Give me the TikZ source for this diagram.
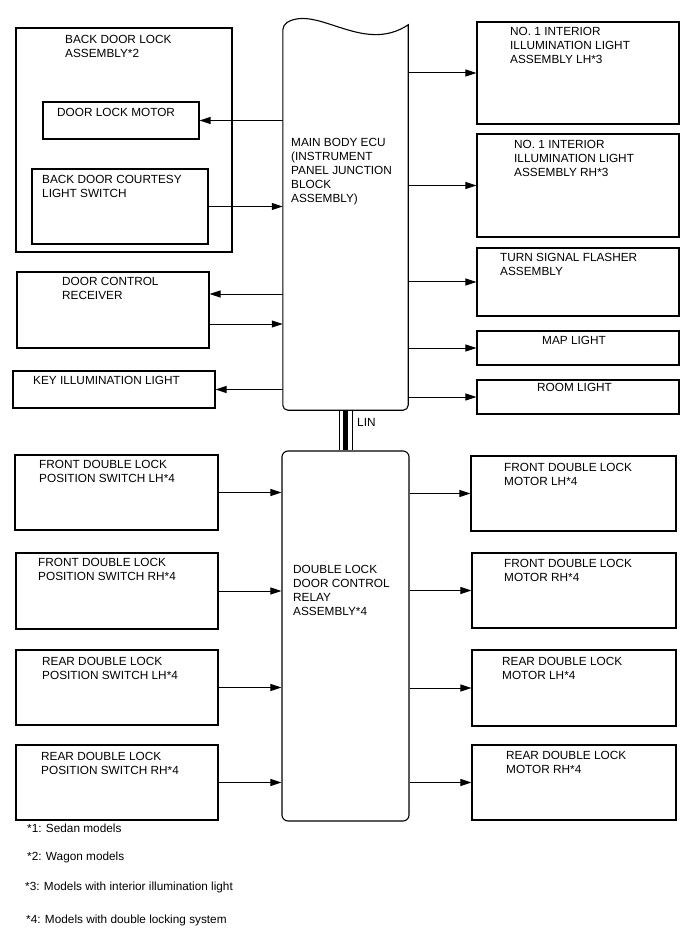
\documentclass[tikz,border=0pt]{standalone}
\usepackage{fontspec}
\setmainfont{Liberation Sans}
\usetikzlibrary{arrows.meta, positioning, calc}
\tikzset{
    unit_box/.style={
        rectangle, draw=black, line width=1.1pt, inner sep=0pt
    },
    ecu_body/.style={
        draw=black, line width=1.1pt
    },
    relay_box/.style={
        rectangle, rounded corners=6pt, draw=black, line width=1.1pt, inner sep=0pt
    },
    sig_arrow/.style={
        -{Triangle[length=11pt, width=7pt]}, draw=black, line width=1pt
    },
    lbl/.style={
        anchor=north west, inner sep=0pt, align=left,
        font=\fontsize{11.8}{14}\selectfont
    }
}

\begin{document}
\begin{tikzpicture}[x=1pt, y=-1pt]
\useasboundingbox (0,0) rectangle (688,949);

% main body ecu (outline drawn below)
\node[minimum width=125pt, minimum height=385pt, inner sep=0pt] (ecu) at (345.5, 217.5) {};
\node[relay_box, minimum width=127pt, minimum height=370pt] (dlr) at (345.5, 636) {};

% LIN bus
\draw[line width=14pt, shorten <=0.7pt, shorten >=0.7pt] (ecu.south) -- (dlr.north);
\draw[line width=12pt, white, shorten <=0.7pt, shorten >=0.7pt] (ecu.south) -- (dlr.north);
\draw[line width=5pt] (ecu.south) -- (dlr.north);
\node[lbl] (lin) at (357, 418) {LIN};

\draw[ecu_body] (ecu.north west) .. controls +(35,-20) and +(-45,30) .. (ecu.north east)
    [rounded corners=5pt] -- (ecu.south east) -- (ecu.south west) -- cycle;

% left side
\node[unit_box, minimum width=216pt, minimum height=224pt] (bdl) at (124, 140) {};
\node[unit_box, minimum width=156pt, minimum height=37pt] (dlm) at (121, 120.5) {};
\node[unit_box, minimum width=176pt, minimum height=75pt] (bcs) at (120, 206.5) {};
\node[unit_box, minimum width=192pt, minimum height=76pt] (dcr) at (113, 310) {};
\node[unit_box, minimum width=202pt, minimum height=37pt] (kil) at (114, 389.5) {};
\node[unit_box, minimum width=203pt, minimum height=75pt] (fls) at (116.5, 492.5) {};
\node[unit_box, minimum width=202pt, minimum height=76pt] (frs) at (117, 591) {};
\node[unit_box, minimum width=202pt, minimum height=75pt] (rls) at (117, 687.5) {};
\node[unit_box, minimum width=202pt, minimum height=75pt] (rrs) at (117, 782.5) {};

% right side
\node[unit_box, minimum width=202pt, minimum height=102pt] (ill_lh) at (578, 73) {};
\node[unit_box, minimum width=202pt, minimum height=103pt] (ill_rh) at (578, 185.5) {};
\node[unit_box, minimum width=202pt, minimum height=68pt] (tsf) at (578, 282) {};
\node[unit_box, minimum width=202pt, minimum height=34pt] (map) at (578, 348) {};
\node[unit_box, minimum width=202pt, minimum height=34pt] (room) at (578, 397) {};
\node[unit_box, minimum width=205pt, minimum height=75pt] (flm) at (573.5, 493.5) {};
\node[unit_box, minimum width=204pt, minimum height=75pt] (frm) at (574, 590.5) {};
\node[unit_box, minimum width=204pt, minimum height=76pt] (rlm) at (574, 688) {};
\node[unit_box, minimum width=204pt, minimum height=75pt] (rrm) at (574, 782.5) {};

% texts
\node[lbl] at (291, 138) {MAIN BODY ECU\\(INSTRUMENT\\PANEL JUNCTION\\BLOCK\\ASSEMBLY)};
\node[lbl] at (293, 565) {DOUBLE LOCK\\DOOR CONTROL\\RELAY\\ASSEMBLY*4};
\node[lbl] at (65, 35) {BACK DOOR LOCK\\ASSEMBLY*2};
\node[lbl] at (57, 108) {DOOR LOCK MOTOR};
\node[lbl] at (42, 175) {BACK DOOR COURTESY\\LIGHT SWITCH};
\node[lbl] at (62, 277) {DOOR CONTROL\\RECEIVER};
\node[lbl] at (33, 376) {KEY ILLUMINATION LIGHT};
\node[lbl] at (39, 460) {FRONT DOUBLE LOCK\\POSITION SWITCH LH*4};
\node[lbl] at (38, 558) {FRONT DOUBLE LOCK\\POSITION SWITCH RH*4};
\node[lbl] at (42, 657) {REAR DOUBLE LOCK\\POSITION SWITCH LH*4};
\node[lbl] at (41, 752) {REAR DOUBLE LOCK\\POSITION SWITCH RH*4};
\node[lbl] at (510, 27) {NO. 1 INTERIOR\\ILLUMINATION LIGHT\\ASSEMBLY LH*3};
\node[lbl] at (514, 140) {NO. 1 INTERIOR\\ILLUMINATION LIGHT\\ASSEMBLY RH*3};
\node[lbl] at (500, 253) {TURN SIGNAL FLASHER\\ASSEMBLY};
\node[lbl] at (542, 336) {MAP LIGHT};
\node[lbl] at (537, 383) {ROOM LIGHT};
\node[lbl] at (504, 463) {FRONT DOUBLE LOCK\\MOTOR LH*4};
\node[lbl] at (504, 559) {FRONT DOUBLE LOCK\\MOTOR RH*4};
\node[lbl] at (502, 657) {REAR DOUBLE LOCK\\MOTOR LH*4};
\node[lbl] at (506, 751) {REAR DOUBLE LOCK\\MOTOR RH*4};

% footnotes
\node[lbl] (fn1) at (27, 824) {*1: Sedan models};
\node[lbl] (fn2) at (27, 852) {*2: Wagon models};
\node[lbl] (fn3) at (25, 882) {*3: Models with interior illumination light};
\node[lbl] (fn4) at (26, 915) {*4: Models with double locking system};

% connections
\coordinate (dcr_in) at ([yshift=16pt]dcr.east);
\coordinate (dcr_out) at ([yshift=-14pt]dcr.east);
\draw[sig_arrow] (ecu.west |- dlm.east) -- (dlm.east);
\draw[sig_arrow] (bcs.east) -- (bcs.east -| ecu.west);
\draw[sig_arrow] (ecu.west |- dcr_in) -- (dcr_in);
\draw[sig_arrow] (dcr_out) -- (dcr_out -| ecu.west);
\draw[sig_arrow] (ecu.west |- kil.east) -- (kil.east);
\draw[sig_arrow] (ecu.east |- ill_lh.west) -- (ill_lh.west);
\draw[sig_arrow] (ecu.east |- ill_rh.west) -- (ill_rh.west);
\draw[sig_arrow] (ecu.east |- tsf.west) -- (tsf.west);
\draw[sig_arrow] (ecu.east |- map.west) -- (map.west);
\draw[sig_arrow] (ecu.east |- room.west) -- (room.west);
\draw[sig_arrow] (fls.east) -- (fls.east -| dlr.west);
\draw[sig_arrow] (frs.east) -- (frs.east -| dlr.west);
\draw[sig_arrow] (rls.east) -- (rls.east -| dlr.west);
\draw[sig_arrow] (rrs.east) -- (rrs.east -| dlr.west);
\draw[sig_arrow] (dlr.east |- flm.west) -- (flm.west);
\draw[sig_arrow] (dlr.east |- frm.west) -- (frm.west);
\draw[sig_arrow] (dlr.east |- rlm.west) -- (rlm.west);
\draw[sig_arrow] (dlr.east |- rrm.west) -- (rrm.west);
\end{tikzpicture}
\end{document}
